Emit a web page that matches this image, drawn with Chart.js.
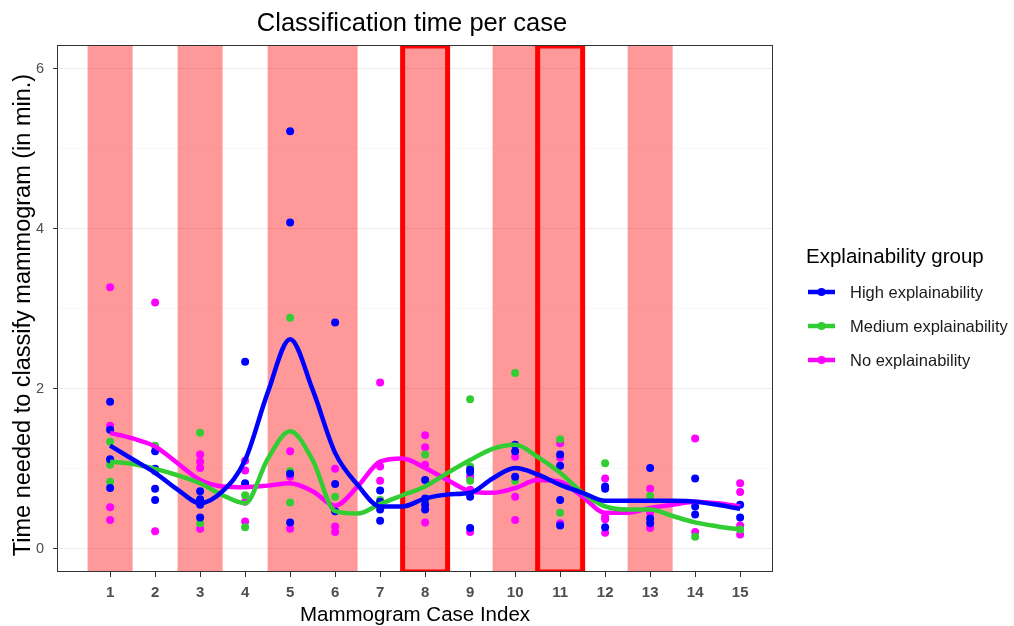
<!DOCTYPE html>
<html>
<head>
<meta charset="utf-8">
<title>Classification time per case</title>
<script src="https://cdn.jsdelivr.net/npm/chart.js@4.4.0/dist/chart.umd.min.js"></script>
<style>
  html, body { margin: 0; padding: 0; background: #fff; }
</style>
</head>
<body>
<canvas id="graph-time" width="1014" height="626"></canvas>
<script>
// Casos de mamografía (eje x)
const casos = [1, 2, 3, 4, 5, 6, 7, 8, 9, 10, 11, 12, 13, 14, 15];
const casosSombreados = [1, 3, 5, 6, 8, 10, 11, 13];
const casosMarcados = [8, 11];
const yTicks = [0, 1, 2, 3, 4, 5, 6];

// Tiempos individuales (min) por caso, uno por participante
const tiemposAlta = [
  [1.84, 1.49, 1.12, 0.76], [1.22, 1.0, 0.75, 0.61], [0.72, 0.62, 0.55, 0.39],
  [2.34, 0.82], [5.22, 4.08, 0.94, 0.33], [2.83, 0.81, 0.47],
  [0.73, 0.59, 0.49, 0.35], [0.86, 0.63, 0.55, 0.49], [0.99, 0.96, 0.65, 0.26],
  [1.30, 1.22, 0.90], [1.18, 1.04, 0.61, 0.29], [0.78, 0.75, 0.27],
  [1.01, 0.38, 0.32], [0.88, 0.53, 0.43], [0.55, 0.39]
];
const tiemposMedia = [
  [1.34, 1.10, 1.05, 0.84], [1.29, 0.98], [1.45, 0.32],
  [0.80, 0.67, 0.27], [2.89, 0.97, 0.58], [0.65],
  [0.61], [1.18, 0.58], [1.87, 1.03, 0.85],
  [2.20, 0.85], [1.37, 0.45], [1.07],
  [0.66], [0.15], [0.24]
];
const tiemposNinguna = [
  [3.27, 1.54, 0.52, 0.36], [3.08, 0.97, 0.22], [1.18, 1.09, 1.01, 0.25],
  [1.10, 0.98, 0.59, 0.34], [1.22, 0.90, 0.25], [1.00, 0.28, 0.21],
  [2.08, 1.03, 0.85], [1.42, 1.27, 1.05, 0.33], [0.90, 0.74, 0.21],
  [1.15, 0.65, 0.36], [1.32, 1.14, 0.32], [0.88, 0.40, 0.37, 0.20],
  [0.75, 0.45, 0.26], [1.38, 0.21], [0.82, 0.71, 0.29, 0.18]
];

// Curvas suavizadas (loess), cada medio caso
const suaveX = [1, 1.5, 2, 2.5, 3, 3.5, 4, 4.5, 5, 5.5, 6, 6.5, 7, 7.5, 8,
  8.5, 9, 9.5, 10, 10.5, 11, 11.5, 12, 12.5, 13, 13.5, 14, 14.5, 15];
const suaveAlta = [1.29, 1.12, 0.95, 0.74, 0.57, 0.72, 1.11, 1.95, 2.62, 1.99, 1.20, 0.80, 0.53, 0.53, 0.63,
  0.68, 0.70, 0.88, 1.01, 0.93, 0.80, 0.70, 0.60, 0.60, 0.60, 0.60, 0.59, 0.55, 0.50];
const suaveMedia = [1.09, 1.06, 1.00, 0.92, 0.82, 0.67, 0.57, 1.12, 1.47, 1.11, 0.47, 0.44, 0.56, 0.67, 0.78,
  0.95, 1.11, 1.25, 1.30, 1.15, 0.95, 0.70, 0.53, 0.49, 0.49, 0.41, 0.33, 0.28, 0.24];
const suaveNinguna = [1.45, 1.38, 1.28, 1.07, 0.86, 0.78, 0.77, 0.79, 0.82, 0.72, 0.54, 0.78, 1.09, 1.13, 1.01,
  0.86, 0.72, 0.70, 0.76, 0.86, 0.84, 0.65, 0.45, 0.45, 0.51, 0.55, 0.59, 0.57, 0.53];

const grupos = ["High explainability", "Medium explainability", "No explainability"];
const colores = ["#0000FF", "#32CD32", "#FF00FF"];

const fuente = "'Liberation Sans', Arial, sans-serif";
Chart.defaults.font.family = fuente;

function puntos(tiempos) {
  return tiempos.flatMap((vals, i) => vals.map(v => ({ x: casos[i], y: v })));
}

function curva(ys) {
  return suaveX.map((x, i) => ({ x: x, y: ys[i] }));
}

// Franjas rojas detrás de los datos, títulos, borde y leyenda
const franjas = {
  id: "franjas",
  beforeDatasetsDraw(chart) {
    const { ctx, chartArea: a, scales: { x } } = chart;
    ctx.save();
    ctx.beginPath();
    ctx.rect(a.left, a.top, a.right - a.left, a.bottom - a.top);
    ctx.clip();
    // un solo trazo para que las franjas contiguas no se solapen
    ctx.beginPath();
    casosSombreados.forEach(c => {
      const x0 = x.getPixelForValue(c - 0.5);
      const x1 = x.getPixelForValue(c + 0.5);
      ctx.rect(x0, a.top, x1 - x0, a.bottom - a.top);
    });
    ctx.fillStyle = "rgba(255, 0, 0, 0.4)";
    ctx.fill("nonzero");
    ctx.strokeStyle = "#FF0000";
    ctx.lineWidth = 5;
    casosMarcados.forEach(c => {
      const x0 = x.getPixelForValue(c - 0.5);
      const x1 = x.getPixelForValue(c + 0.5);
      ctx.strokeRect(x0, a.top + 1, x1 - x0, a.bottom - a.top - 1);
    });
    ctx.restore();
  },
  afterDraw(chart) {
    const { ctx, chartArea: a } = chart;
    ctx.save();
    // borde del panel
    ctx.strokeStyle = "#333333";
    ctx.lineWidth = 1;
    ctx.strokeRect(a.left + 0.5, a.top + 0.5, a.right - a.left - 1, a.bottom - a.top - 1);

    // título
    ctx.fillStyle = "#000";
    ctx.font = "25.5px " + fuente;
    ctx.textAlign = "center";
    ctx.textBaseline = "middle";
    ctx.fillText("Classification time per case", 412, 24);

    // título del eje y
    ctx.save();
    ctx.translate(24, 315);
    ctx.rotate(-Math.PI / 2);
    ctx.font = "23.5px " + fuente;
    ctx.fillText("Time needed to classify mammogram (in min.)", 0, 0);
    ctx.restore();

    // leyenda
    ctx.textAlign = "left";
    ctx.font = "20.5px " + fuente;
    ctx.fillText("Explainability group", 806, 257);
    ctx.font = "16.5px " + fuente;
    grupos.forEach((g, i) => {
      const y = 292 + i * 34;
      ctx.strokeStyle = colores[i];
      ctx.lineWidth = 4.5;
      ctx.beginPath();
      ctx.moveTo(808, y);
      ctx.lineTo(835, y);
      ctx.stroke();
      ctx.fillStyle = colores[i];
      ctx.beginPath();
      ctx.arc(821.5, y, 4, 0, Math.PI * 2);
      ctx.fill();
      ctx.fillStyle = "#1a1a1a";
      ctx.fillText(g, 850, y + 1);
    });
    ctx.restore();
  }
};

const datasets = [];
[tiemposAlta, tiemposMedia, tiemposNinguna].forEach((t, i) => {
  datasets.push({
    type: "scatter",
    label: grupos[i],
    data: puntos(t),
    backgroundColor: colores[i],
    borderWidth: 0,
    pointRadius: 4,
    order: 2
  });
});
[suaveAlta, suaveMedia, suaveNinguna].forEach((s, i) => {
  datasets.push({
    type: "line",
    label: grupos[i] + " (loess)",
    data: curva(s),
    borderColor: colores[i],
    borderWidth: 4.5,
    pointRadius: 0,
    cubicInterpolationMode: "monotone",
    fill: false,
    order: 1
  });
});

const canvas = document.getElementById("graph-time");

new Chart(canvas, {
  type: "scatter",
  data: { datasets: datasets },
  options: {
    responsive: false,
    animation: false,
    devicePixelRatio: 1,
    layout: { padding: { top: 45, right: 241, bottom: 0, left: 0 } },
    plugins: {
      legend: { display: false },
      tooltip: { enabled: false }
    },
    scales: {
      x: {
        type: "linear",
        min: -0.18,
        max: 15.73,
        afterBuildTicks: s => { s.ticks = casos.map(v => ({ value: v })); },
        afterFit: s => { s.height = 54; },
        border: { display: false },
        grid: { drawOnChartArea: false, drawTicks: true, tickLength: 5, tickColor: "#333333" },
        ticks: {
          autoSkip: false,
          maxRotation: 0,
          padding: 7,
          color: "#4d4d4d",
          font: { size: 15, weight: "bold" }
        },
        title: {
          display: true,
          text: "Mammogram Case Index",
          color: "#000",
          font: { size: 20.5, lineHeight: 1.0 },
          padding: { top: 0, bottom: 0 }
        }
      },
      y: {
        type: "linear",
        min: -0.29,
        max: 6.3,
        afterBuildTicks: s => { s.ticks = yTicks.map(v => ({ value: v })); },
        afterFit: s => { s.width = 57; },
        border: { display: false },
        grid: {
          color: c => (c.tick && c.tick.value % 2 === 0 ? "#ebebeb" : "#f4f4f4"),
          lineWidth: c => (c.tick && c.tick.value % 2 === 0 ? 1 : 0.6),
          tickColor: c => (c.tick && c.tick.value % 2 === 0 ? "#333333" : "rgba(0,0,0,0)"),
          tickLength: 4
        },
        ticks: {
          padding: 9,
          color: "#4d4d4d",
          font: { size: 14.5 },
          callback: v => (v % 2 === 0 ? String(v) : "")
        }
      }
    }
  },
  plugins: [franjas]
});
</script>
</body>
</html>
